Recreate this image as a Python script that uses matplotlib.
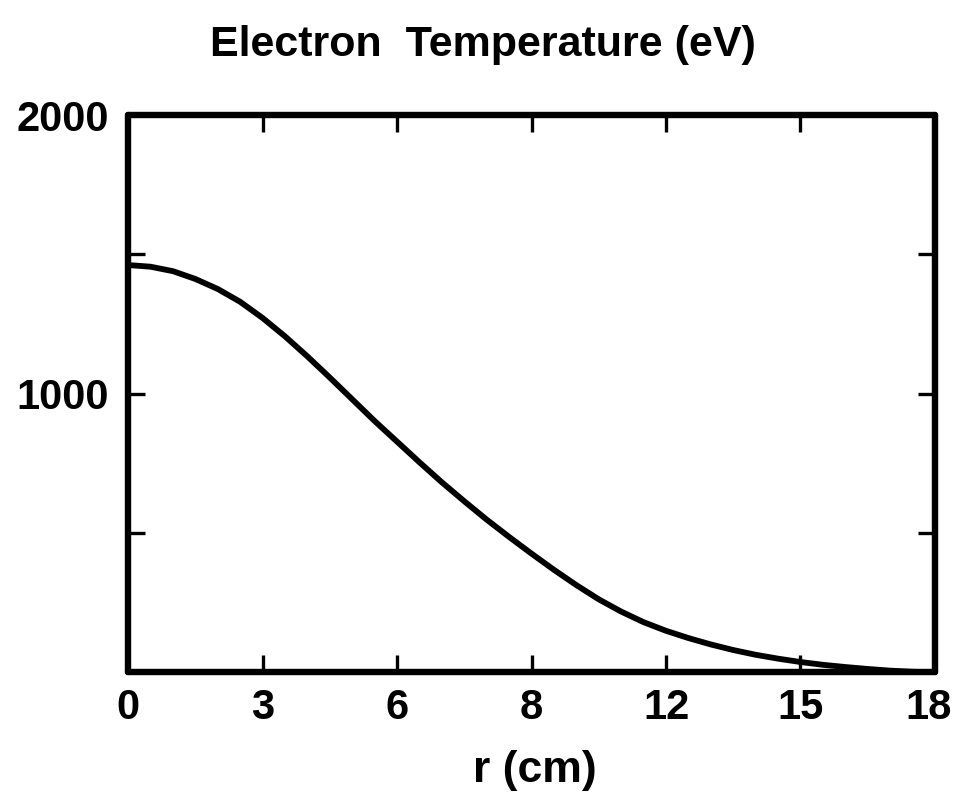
import matplotlib.pyplot as plt
from matplotlib.transforms import ScaledTranslation

# ===================================
# Data
# ===================================

r_cm = [0, 0.5, 1.0, 1.5, 2.0, 2.5, 3.0, 3.5, 4.0, 4.5, 5.0, 5.5, 6.0, 6.5, 7.0, 7.5, 8.0, 8.5,
        9.0, 9.5, 10.0, 10.5, 11.0, 11.5, 12.0, 12.5, 13.0, 13.5, 14.0, 14.5, 15.0, 15.5,
        16.0, 16.5, 17.0, 17.5, 18.0]
temp_ev = [1462, 1456, 1440, 1412, 1376, 1330, 1272, 1206, 1134, 1058, 980, 902, 828, 754, 682, 614, 548, 486,
           426, 368, 313, 262, 218, 180, 149, 123, 100, 80, 63, 49, 37, 27,
           19, 12, 6, 2, 0]

x_ticks = [0, 3, 6, 9, 12, 15, 18]
x_tick_labels = ['0', '3', '6', '8', '12', '15', '18']
y_ticks = [500, 1000, 1500, 2000]
y_tick_labels = ['', '1000', '', '2000']

# ===================================
# Plot
# ===================================

plt.rcParams['font.family'] = ['Liberation Sans', 'DejaVu Sans']
plt.rcParams['font.weight'] = 'bold'

fig = plt.figure(figsize=(9.56, 8.11), dpi=100)
ax = fig.add_axes([0.134, 0.171, 0.844, 0.687])

ax.plot(r_cm, temp_ev, color='black', linewidth=4.2, solid_capstyle='round',
        solid_joinstyle='round')

ax.set_xlim(0, 18)
ax.set_ylim(0, 2000)

ax.set_xticks(x_ticks)
ax.set_xticklabels(x_tick_labels, fontsize=30, fontweight='bold')
ax.set_yticks(y_ticks)
ax.set_yticklabels(y_tick_labels, fontsize=30, fontweight='bold')

ax.tick_params(direction='in', length=12, width=2.4, top=True, right=True)
ax.tick_params(axis='x', pad=11)
ax.tick_params(axis='y', pad=14)

# nudge the last x label so it stays inside the figure
last = ax.get_xticklabels()[-1]
last.set_transform(last.get_transform() + ScaledTranslation(-6 / 100, 0, fig.dpi_scale_trans))

for sp in ax.spines.values():
    sp.set_linewidth(4.6)
    sp.set_capstyle('round')

fig.text(0.505, 0.945, 'Electron  Temperature (eV)', ha='center', va='center',
         fontsize=31, fontweight='bold')
fig.text(0.56, 0.05, 'r (cm)', ha='center', va='center',
         fontsize=32, fontweight='bold')

plt.savefig('out.png', dpi=100)
